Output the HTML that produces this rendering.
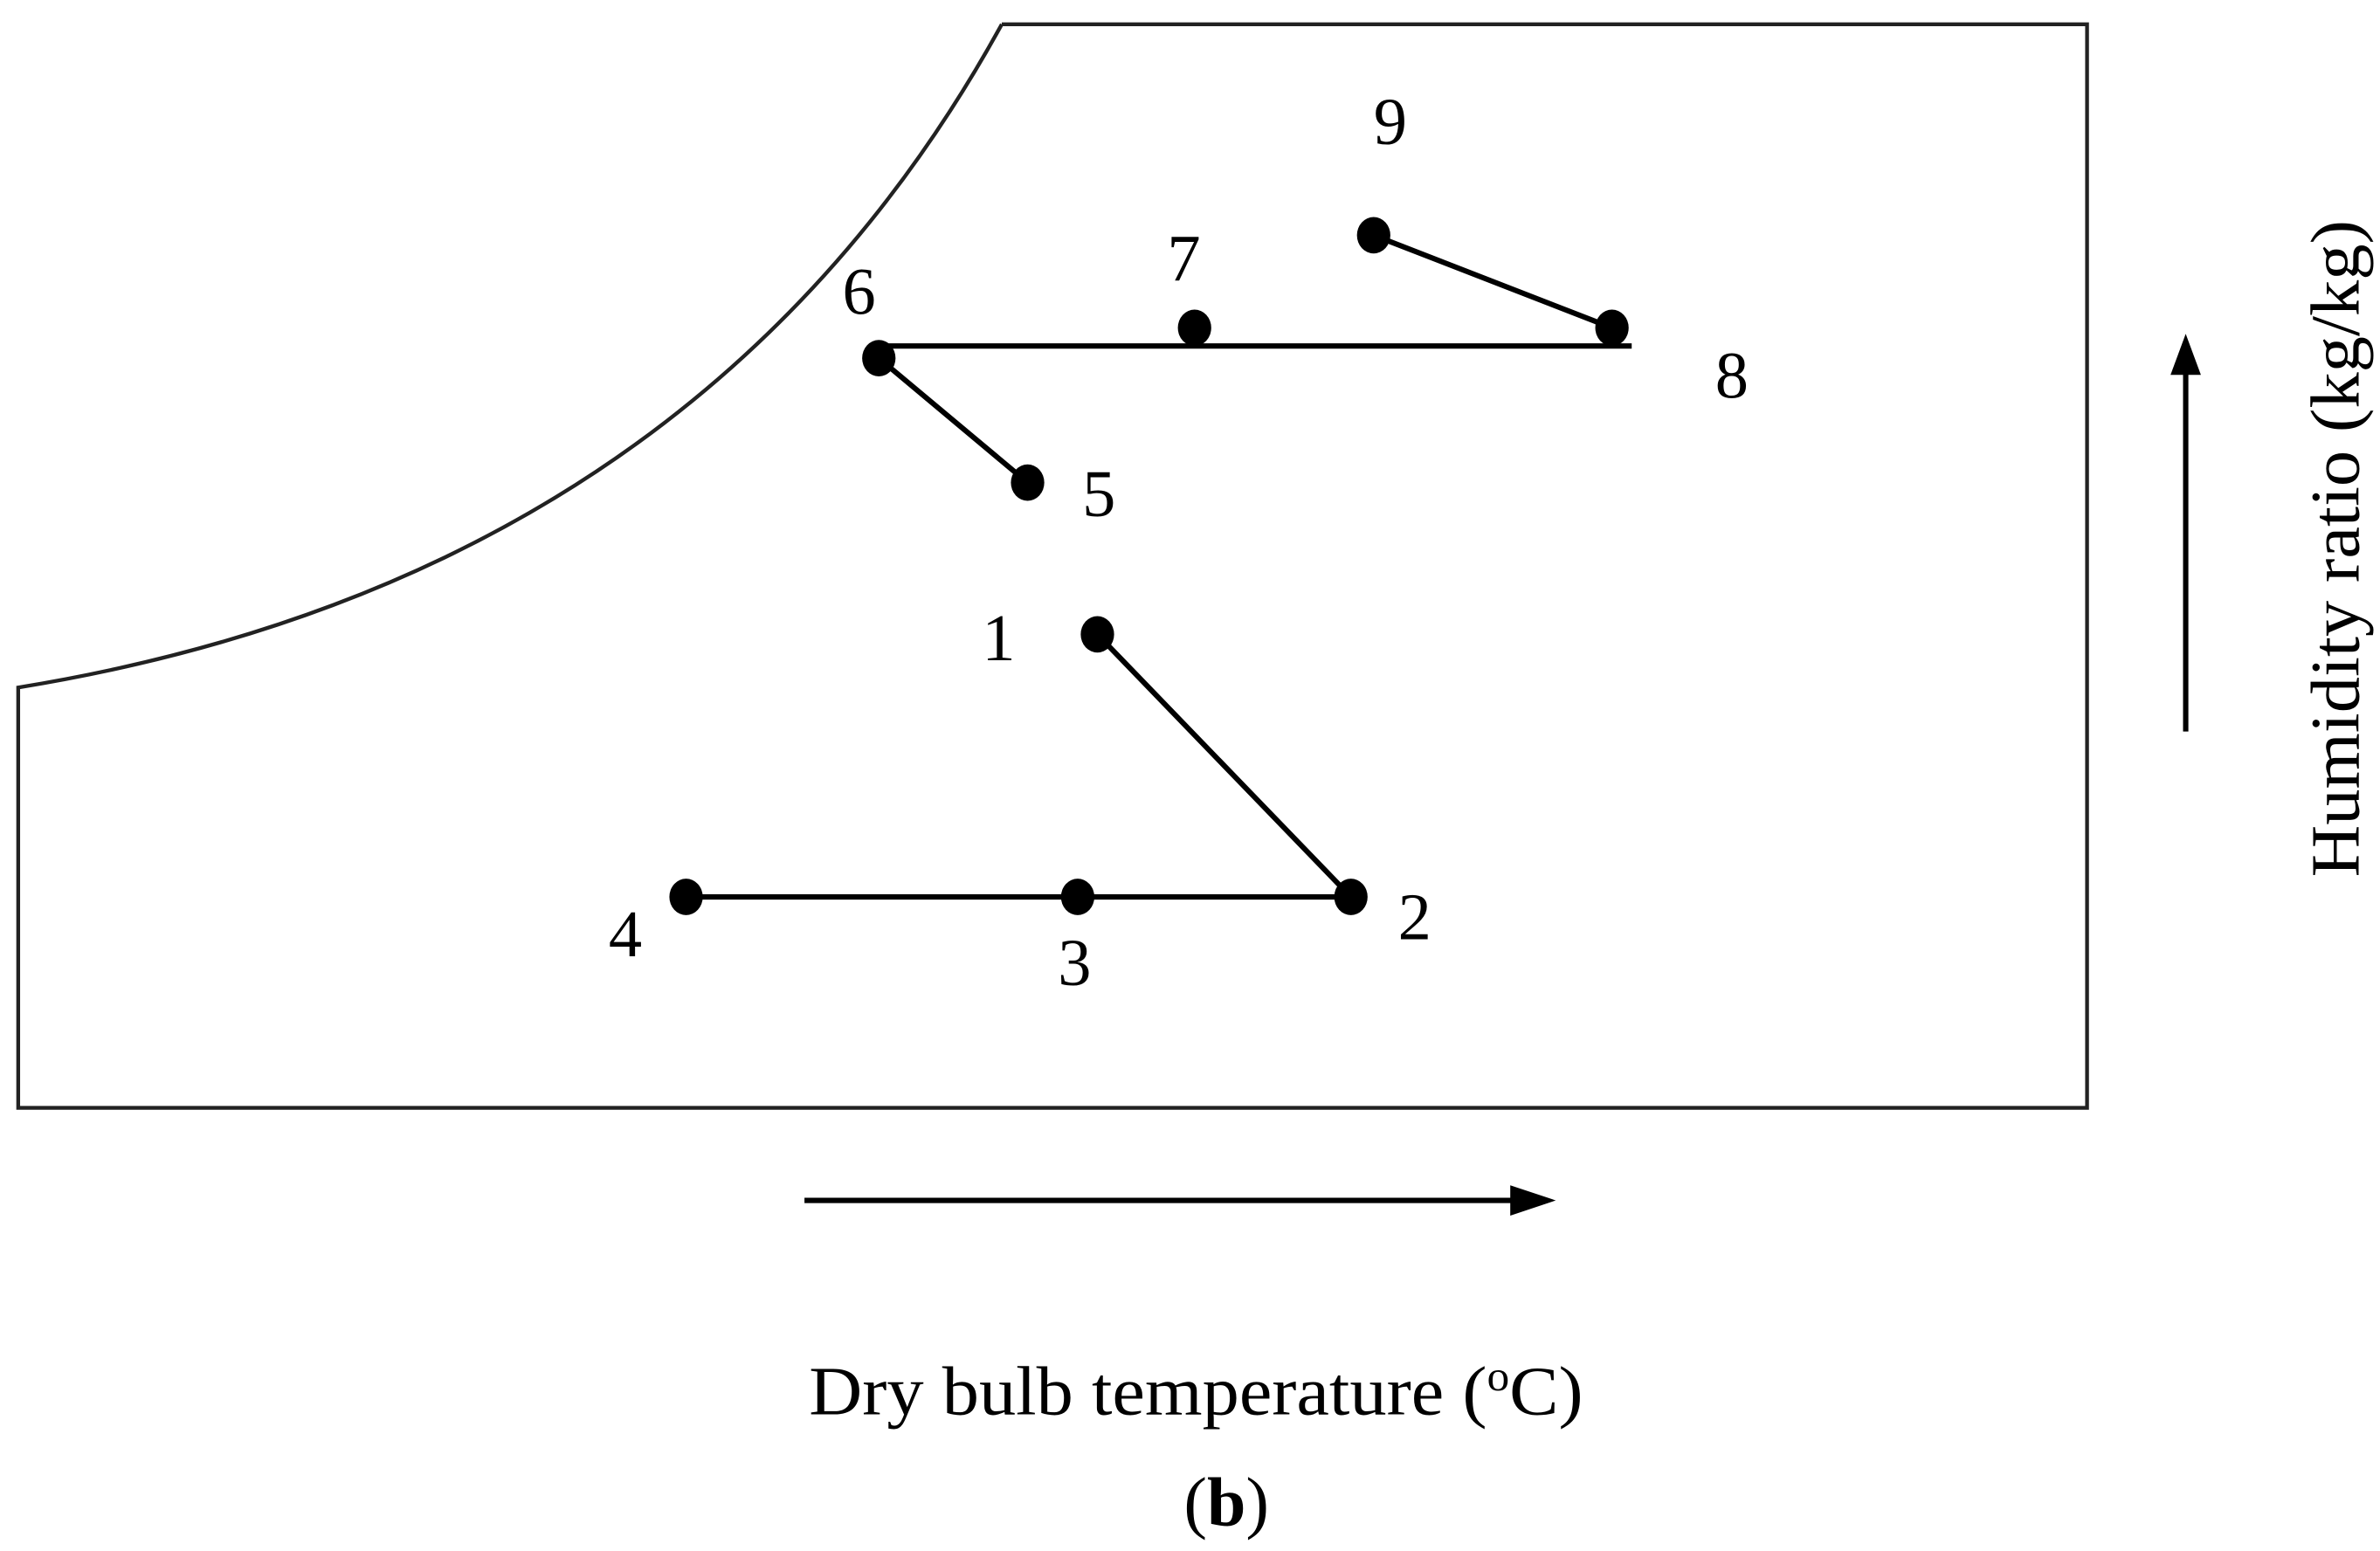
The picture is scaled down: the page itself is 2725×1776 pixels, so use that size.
<!DOCTYPE html>
<html><head><meta charset="utf-8"><style>
html,body{margin:0;padding:0;background:#fff;width:2725px;height:1776px;overflow:hidden}
svg{display:block}
text{font-family:"Liberation Serif",serif;fill:#000}
</style></head><body>
<svg width="2725" height="1776" viewBox="0 0 1568 1022" preserveAspectRatio="none">
<path d="M660,16 L1375,16 L1375,730 L12,730 L12,453 Q460,380 660,16" fill="none" stroke="#222" stroke-width="2.5"/>
<g stroke="#000" stroke-width="3.5" fill="none">
<line x1="579" y1="228" x2="1075" y2="228"/>
<line x1="579" y1="236" x2="677" y2="318"/>
<line x1="905" y1="155" x2="1062" y2="216"/>
<line x1="723" y1="418" x2="890" y2="591"/>
<line x1="452" y1="591" x2="890" y2="591"/>
<line x1="530" y1="791" x2="1000" y2="791"/>
<line x1="1440" y1="482" x2="1440" y2="245"/>
</g>
<polygon points="995,781 1025,791 995,801" fill="#000"/>
<polygon points="1430,247 1440,220 1450,247" fill="#000"/>
<g fill="#000">
<ellipse cx="723" cy="418" rx="11" ry="12"/>
<ellipse cx="890" cy="591" rx="11" ry="12"/>
<ellipse cx="710" cy="591" rx="11" ry="12"/>
<ellipse cx="452" cy="591" rx="11" ry="12"/>
<ellipse cx="677" cy="318" rx="11" ry="12"/>
<ellipse cx="579" cy="236" rx="11" ry="12"/>
<ellipse cx="787" cy="216" rx="11" ry="12"/>
<ellipse cx="1062" cy="216" rx="11" ry="12"/>
<ellipse cx="905" cy="155" rx="11" ry="12"/>
</g>
<g font-size="44" text-anchor="middle">
<text x="916" y="95">9</text>
<text x="780" y="185">7</text>
<text x="566" y="207">6</text>
<text x="1141" y="262">8</text>
<text x="724" y="340">5</text>
<text x="658" y="435">1</text>
<text x="932" y="619">2</text>
<text x="708" y="649">3</text>
<text x="412" y="630">4</text>
</g>
<text x="533" y="932" font-size="46" textLength="510" lengthAdjust="spacingAndGlyphs">Dry bulb temperature (<tspan font-size="28" dy="-16">o</tspan><tspan dy="16">C)</tspan></text>
<text x="808" y="1005" font-size="46" text-anchor="middle">(<tspan font-weight="bold">b</tspan>)</text>
<text transform="translate(1554,578) rotate(-90)" font-size="46" textLength="433" lengthAdjust="spacingAndGlyphs">Humidity ratio (kg/kg)</text>
</svg>
</body></html>
